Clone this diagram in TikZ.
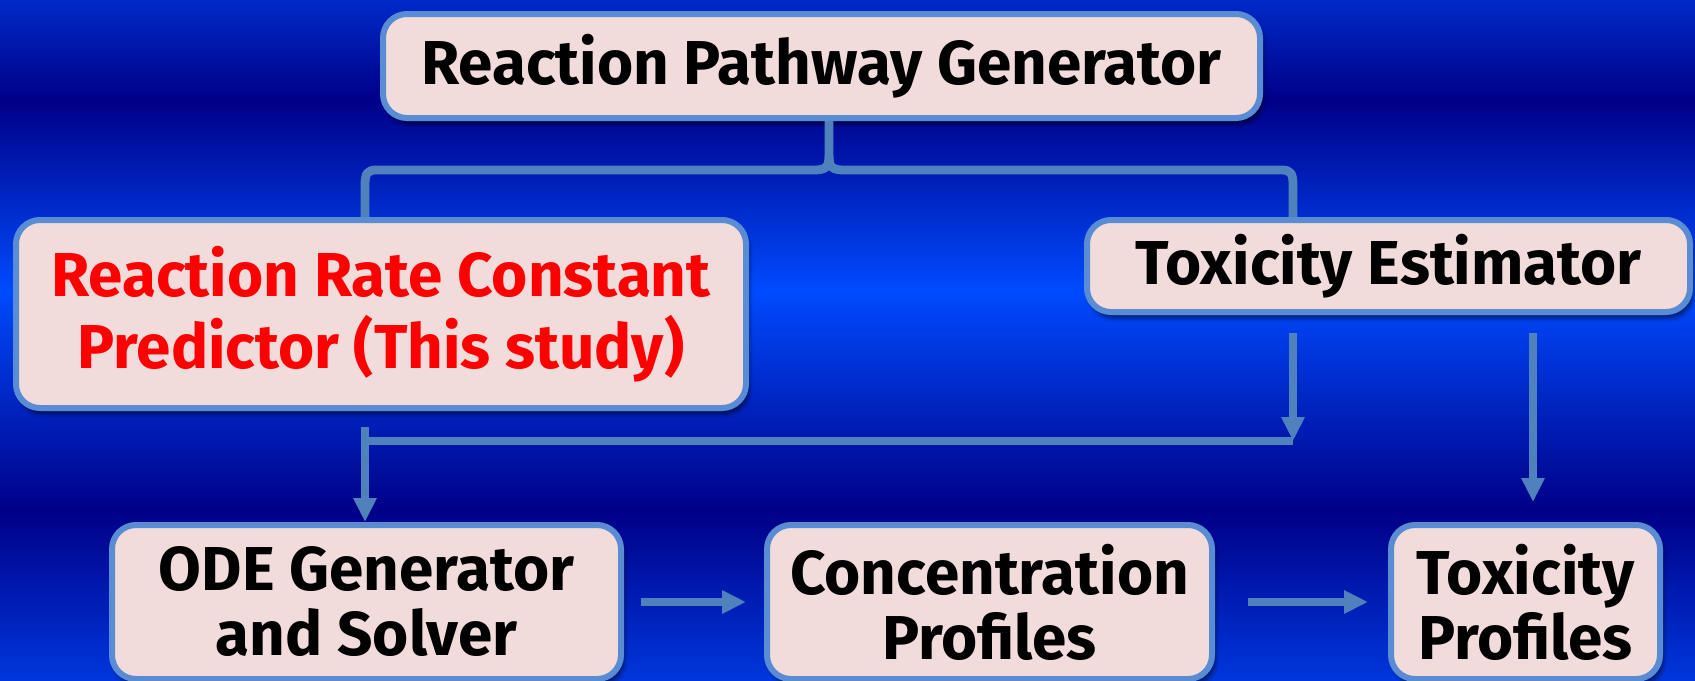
\documentclass[tikz,border=0pt]{standalone}
\usepackage{fontspec}
\setmainfont{Fira Sans}
\usetikzlibrary{arrows.meta,shadows.blur,calc}
\definecolor{boxfill}{HTML}{F2DCDB}
\definecolor{boxline}{HTML}{5A8CD4}
\definecolor{linkblue}{HTML}{4F81BD}
\definecolor{bgtop}{RGB}{0,42,200}
\definecolor{bgdark}{RGB}{0,0,135}
\definecolor{bglight}{RGB}{0,75,255}
\definecolor{bgbottom}{RGB}{0,55,220}
\definecolor{redtext}{HTML}{FF0000}
\begin{document}
\begin{tikzpicture}[x=0.5pt,y=-0.5pt,
  stagebox/.style={draw=boxline, line width=3pt, fill=boxfill, rounded corners=12pt,
    blur shadow={shadow xshift=1.5pt, shadow yshift=-3pt, shadow blur steps=8, shadow opacity=55},
    inner sep=0pt, align=center, text=black,
    font=\fontsize{31}{36}\selectfont\bfseries},
  twoline/.style={font=\fontsize{31}{32.5}\selectfont\bfseries},
  link/.style={draw=linkblue, line width=4.4pt},
  arrowlink/.style={link, -{Triangle[length=12pt,width=11pt]}},
]
\useasboundingbox (0,0) rectangle (1695,680);

% banded blue background
\shade[top color=bgtop, bottom color=bgdark] (0,0) rectangle (1695,101);
\shade[top color=bgdark, bottom color=bglight] (0,100) rectangle (1695,291);
\shade[top color=bglight, bottom color=bgdark] (0,290) rectangle (1695,511);
\shade[top color=bgdark, bottom color=bgbottom] (0,510) rectangle (1695,680);

% stages
\node[stagebox, minimum width=438.5pt, minimum height=52pt] (rpg) at (821.5,66)
  {Reaction Pathway Generator};
\node[stagebox, text=redtext, minimum width=365pt, minimum height=94pt] (rrc) at (381,314)
  {Reaction Rate Constant\\Predictor (This study)};
\node[stagebox, minimum width=301.5pt, minimum height=46pt] (tox) at (1388.5,266)
  {Toxicity Estimator};
\node[stagebox, twoline, minimum width=254.5pt, minimum height=77pt] (ode) at (366.5,602)
  {ODE Generator\\and Solver};
\node[stagebox, twoline, minimum width=222.5pt, minimum height=77pt] (conc) at (989.5,602)
  {Concentration\\Profiles};
\node[stagebox, twoline, minimum width=134.5pt, minimum height=77pt] (tp) at (1525.5,602)
  {Toxicity\\Profiles};

% brace joining the generator to both estimators
\coordinate (bl) at (365,170);
\coordinate (bc) at (829,170);
\coordinate (br) at (1293,170);
\draw[link, line join=round]
  (rpg.south -| bc) -- ($(bc)+(0,-14)$)
  .. controls ($(bc)+(0,-2)$) and ($(bc)+(-4,0)$) .. ($(bc)+(-16,0)$)
  -- ($(bl)+(12,0)$)
  .. controls ($(bl)+(2,0)$) and ($(bl)+(0,3)$) .. ($(bl)+(0,16)$)
  -- (rrc.north -| bl);
\draw[link, line join=round]
  ($(bc)+(0,-14)$)
  .. controls ($(bc)+(0,-2)$) and ($(bc)+(4,0)$) .. ($(bc)+(16,0)$)
  -- ($(br)+(-12,0)$)
  .. controls ($(br)+(-2,0)$) and ($(br)+(0,3)$) .. ($(br)+(0,16)$)
  -- (tox.north -| br);

% merge line feeding the ODE stage
\coordinate (ml) at (365,441);
\coordinate (mr) at (1293,441);
\draw[arrowlink, shorten <=9pt] (tox.south -| mr) -- (mr);
\draw[link] (ml) -- (mr);
\draw[arrowlink] ($(ml)+(0,-14)$) -- (ode.north -| ml);

% toxicity estimator to toxicity profiles
\coordinate (tr) at (1533,0);
\draw[arrowlink, shorten <=9pt, shorten >=10pt] (tox.south -| tr) -- (tp.north -| tr);

% bottom chain
\draw[arrowlink, shorten <=8.5pt, shorten >=9pt] (ode.east) -- (conc.west);
\draw[arrowlink, shorten <=16.5pt, shorten >=10pt] (conc.east) -- (tp.west);
\end{tikzpicture}
\end{document}
